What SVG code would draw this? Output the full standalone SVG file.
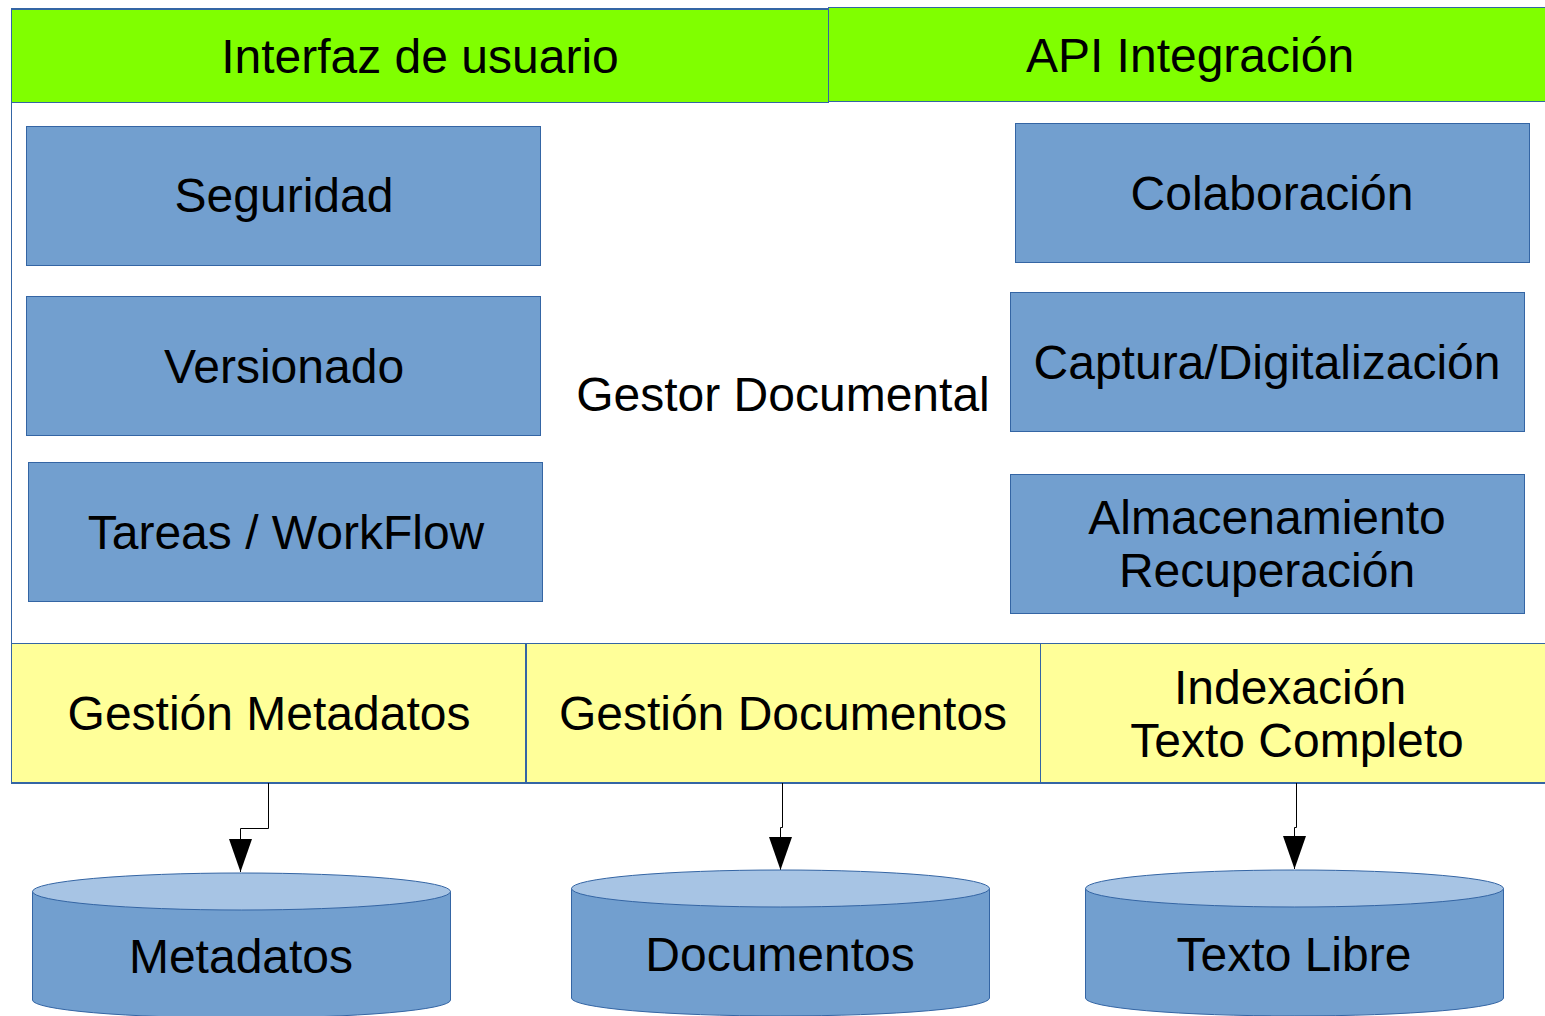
<svg xmlns="http://www.w3.org/2000/svg" width="1545" height="1016" viewBox="0 0 1545 1016">
<style>
text{font-family:"Liberation Sans",Arial,sans-serif;font-size:48px;fill:#000;text-anchor:middle}
.g{fill:#80ff00;stroke:#3465a4;stroke-width:1}
.b{fill:#729fcf;stroke:#3465a4;stroke-width:1}
.y{fill:#ffff99;stroke:#3465a4;stroke-width:1}
.t{fill:#a7c4e4;stroke:#3465a4;stroke-width:1}
.c{fill:none;stroke:#000;stroke-width:1}
</style>
<defs>
<marker id="ah" markerUnits="userSpaceOnUse" markerWidth="34" markerHeight="23" refX="33" refY="11.5" orient="auto" viewBox="0 0 33 23">
<polygon points="0,0 33,11.5 0,23" fill="#000"/>
</marker>
</defs>
<rect id="container" x="11.5" y="8.5" width="1545" height="775" fill="#fff" stroke="#3465a4"/>
<g id="interfaz"><rect class="g" x="11.5" y="9.5" width="817" height="93"/><text x="420" y="73">Interfaz de usuario</text></g>
<g id="api"><rect class="g" x="828.5" y="7.5" width="720" height="94"/><text x="1190" y="72">API Integración</text></g>
<g id="seguridad"><rect class="b" x="26.5" y="126.5" width="514" height="139"/><text x="284" y="212">Seguridad</text></g>
<g id="versionado"><rect class="b" x="26.5" y="296.5" width="514" height="139"/><text x="284" y="383">Versionado</text></g>
<g id="tareas"><rect class="b" x="28.5" y="462.5" width="514" height="139"/><text x="286" y="549">Tareas / WorkFlow</text></g>
<g id="gestor"><text x="783" y="411">Gestor Documental</text></g>
<g id="colaboracion"><rect class="b" x="1015.5" y="123.5" width="514" height="139"/><text x="1272" y="210">Colaboración</text></g>
<g id="captura"><rect class="b" x="1010.5" y="292.5" width="514" height="139"/><text x="1267" y="379">Captura/Digitalización</text></g>
<g id="almacenamiento"><rect class="b" x="1010.5" y="474.5" width="514" height="139"/><text x="1267" y="534">Almacenamiento</text><text x="1267" y="587">Recuperación</text></g>
<g id="gmetadatos"><rect class="y" x="11.5" y="643.5" width="514" height="139"/><text x="269" y="730">Gestión Metadatos</text></g>
<g id="gdocumentos"><rect class="y" x="526.5" y="643.5" width="514" height="139"/><text x="783" y="730">Gestión Documentos</text></g>
<g id="indexacion"><rect class="y" x="1040.5" y="643.5" width="510" height="139"/><text x="1290" y="704">Indexación</text><text x="1297" y="757">Texto Completo</text></g>
<g id="connectors">
<polyline class="c" points="268.5,783 268.5,828.5 240.5,828.5 240.5,872" marker-end="url(#ah)"/>
<polyline class="c" points="782.5,783 782.5,827.5 780.5,827.5 780.5,870" marker-end="url(#ah)"/>
<polyline class="c" points="1296.5,783 1296.5,827.5 1294.5,827.5 1294.5,869" marker-end="url(#ah)"/>
</g>
<g id="metadatos">
<path class="b" d="M32.5,891.5 V1000 A209,18 0 0 0 450.5,1000 V891.5 Z"/>
<ellipse class="t" cx="241.5" cy="891.5" rx="209" ry="18.5"/>
<text x="241" y="973">Metadatos</text>
</g>
<g id="documentos">
<path class="b" d="M571.5,888.5 V998 A209,18 0 0 0 989.5,998 V888.5 Z"/>
<ellipse class="t" cx="780.5" cy="888.5" rx="209" ry="18.5"/>
<text x="780" y="971">Documentos</text>
</g>
<g id="textolibre">
<path class="b" d="M1085.5,888.5 V998 A209,18 0 0 0 1503.5,998 V888.5 Z"/>
<ellipse class="t" cx="1294.5" cy="888.5" rx="209" ry="18.5"/>
<text x="1294" y="971">Texto Libre</text>
</g>
</svg>
